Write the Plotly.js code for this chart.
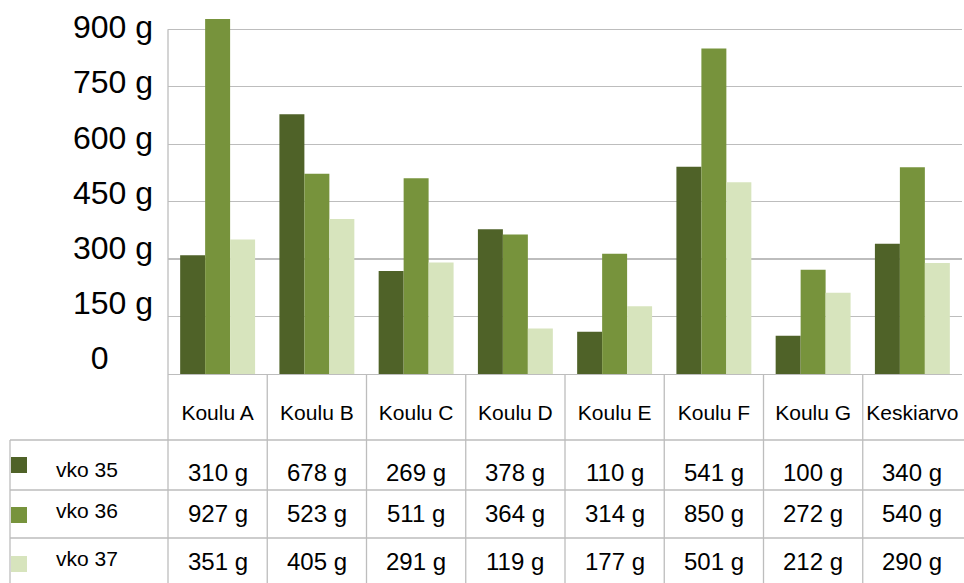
<!DOCTYPE html>
<html>
<head>
<meta charset="utf-8">
<script src="https://cdn.plot.ly/plotly-3.0.1.min.js"></script>
<style>html,body{margin:0;padding:0;background:#fff;}#chart{width:964px;height:583px;}</style>
</head>
<body>
<div id="chart"></div>
<script>
const categories = ["Koulu A","Koulu B","Koulu C","Koulu D","Koulu E","Koulu F","Koulu G","Keskiarvo"];
const seriesNames = ["vko 35","vko 36","vko 37"];
const vko35 = [310,678,269,378,110,541,100,340];
const vko36 = [927,523,511,364,314,850,272,540];
const vko37 = [351,405,291,119,177,501,212,290];
const tickValues = [0,150,300,450,600,750,900];
const tickLabels = ["0\u00a0\u00a0\u00a0\u00a0\u00a0","150 g","300 g","450 g","600 g","750 g","900 g"];

const colors = ["#4F6228","#77933C","#D7E4BD"];
const seriesValues = [vko35, vko36, vko37];
const FONT = "Liberation Sans, Arial, sans-serif";

// pixel geometry helpers
const W = 964, H = 583;
const ml = 168, mr = 2, mt = 14, mb = 209;
const pw = W - ml - mr, ph = H - mt - mb;
const px = x => (x - ml) / pw;
const py = y => (H - mb - y) / ph;

const traces = seriesValues.map((vals, i) => ({
  type: "bar",
  name: seriesNames[i],
  x: categories,
  y: vals,
  marker: {color: colors[i], line: {width: 0}},
  hoverinfo: "x+y+name",
  showlegend: false
}));
// helper trace for the label axis
traces.push({type:"scatter", mode:"markers", x: categories, y: categories.map(()=>null), yaxis:"y2", showlegend:false, hoverinfo:"skip"});

const gridCol = "#BDBDBD";
const shapes = [];
const annotations = [];
const n = categories.length;
const cw = pw / n;
// y axis line
shapes.push({type:"line", xref:"paper", yref:"y", x0:0, x1:0, y0:0, y1:900, line:{color:gridCol, width:1.3}});
// vertical table lines
for (let k = 0; k < n; k++) {
  const xx = px(ml + k*cw);
  shapes.push({type:"line", xref:"paper", yref:"paper", x0:xx, x1:xx, y0:py(374), y1:py(583), line:{color:gridCol, width:1.3}});
}
// left border
shapes.push({type:"line", xref:"paper", yref:"paper", x0:px(10), x1:px(10), y0:py(440), y1:py(583), line:{color:gridCol, width:1.3}});
// horizontal table lines
[440, 490, 538].forEach(yy => {
  shapes.push({type:"line", xref:"paper", yref:"paper", x0:px(10), x1:px(964), y0:py(yy), y1:py(yy), line:{color:gridCol, width:1.3}});
});
// rows
const rowLabelY = [469, 510, 558];
const rowValueY = [472, 513, 561];
const keyTop = [457, 507, 556];
seriesNames.forEach((nm, i) => {
  shapes.push({type:"rect", xref:"paper", yref:"paper", x0:px(11), x1:px(27), y0:py(keyTop[i]), y1:py(keyTop[i]+16), line:{width:0}, fillcolor:colors[i]});
  annotations.push({xref:"paper", yref:"paper", x:px(54), y:py(rowLabelY[i]), xanchor:"left", yanchor:"middle", text:nm, showarrow:false, font:{family:FONT, size:21, color:"#000"}});
  seriesValues[i].forEach((v, j) => {
    annotations.push({xref:"paper", yref:"paper", x:px(ml + cw*(j+0.5)), y:py(rowValueY[i]), xanchor:"center", yanchor:"middle", text:v + " g", showarrow:false, font:{family:FONT, size:24, color:"#000"}});
  });
});

const layout = {
  width: W, height: H,
  margin: {l: ml, r: mr, t: mt, b: mb, pad: 0},
  paper_bgcolor: "#fff", plot_bgcolor: "#fff",
  barmode: "group", bargap: 0.245, bargroupgap: 0,
  showlegend: false,
  xaxis: {
    type: "category", showgrid: false, zeroline: false,
    showline: true, linecolor: gridCol, linewidth: 1.3,
    ticks: "", ticklabelstandoff: 19,
    tickfont: {family: FONT, size: 21, color: "#000"}
  },
  yaxis: {
    range: [0, 940], tickvals: tickValues, showticklabels: false,
    showgrid: true, gridcolor: gridCol, gridwidth: 1.3,
    zeroline: false, showline: false, ticks: ""
  },
  yaxis2: {
    overlaying: "y", side: "left", anchor: "x",
    range: [-43.5, 935.4], tickvals: tickValues, ticktext: tickLabels,
    showgrid: false, zeroline: false, showline: false, ticks: "",
    ticklabelstandoff: 14,
    tickfont: {family: FONT, size: 32, color: "#000"}
  },
  shapes: shapes,
  annotations: annotations
};

Plotly.newPlot("chart", traces, layout, {displayModeBar: false, staticPlot: true});
</script>
</body>
</html>
